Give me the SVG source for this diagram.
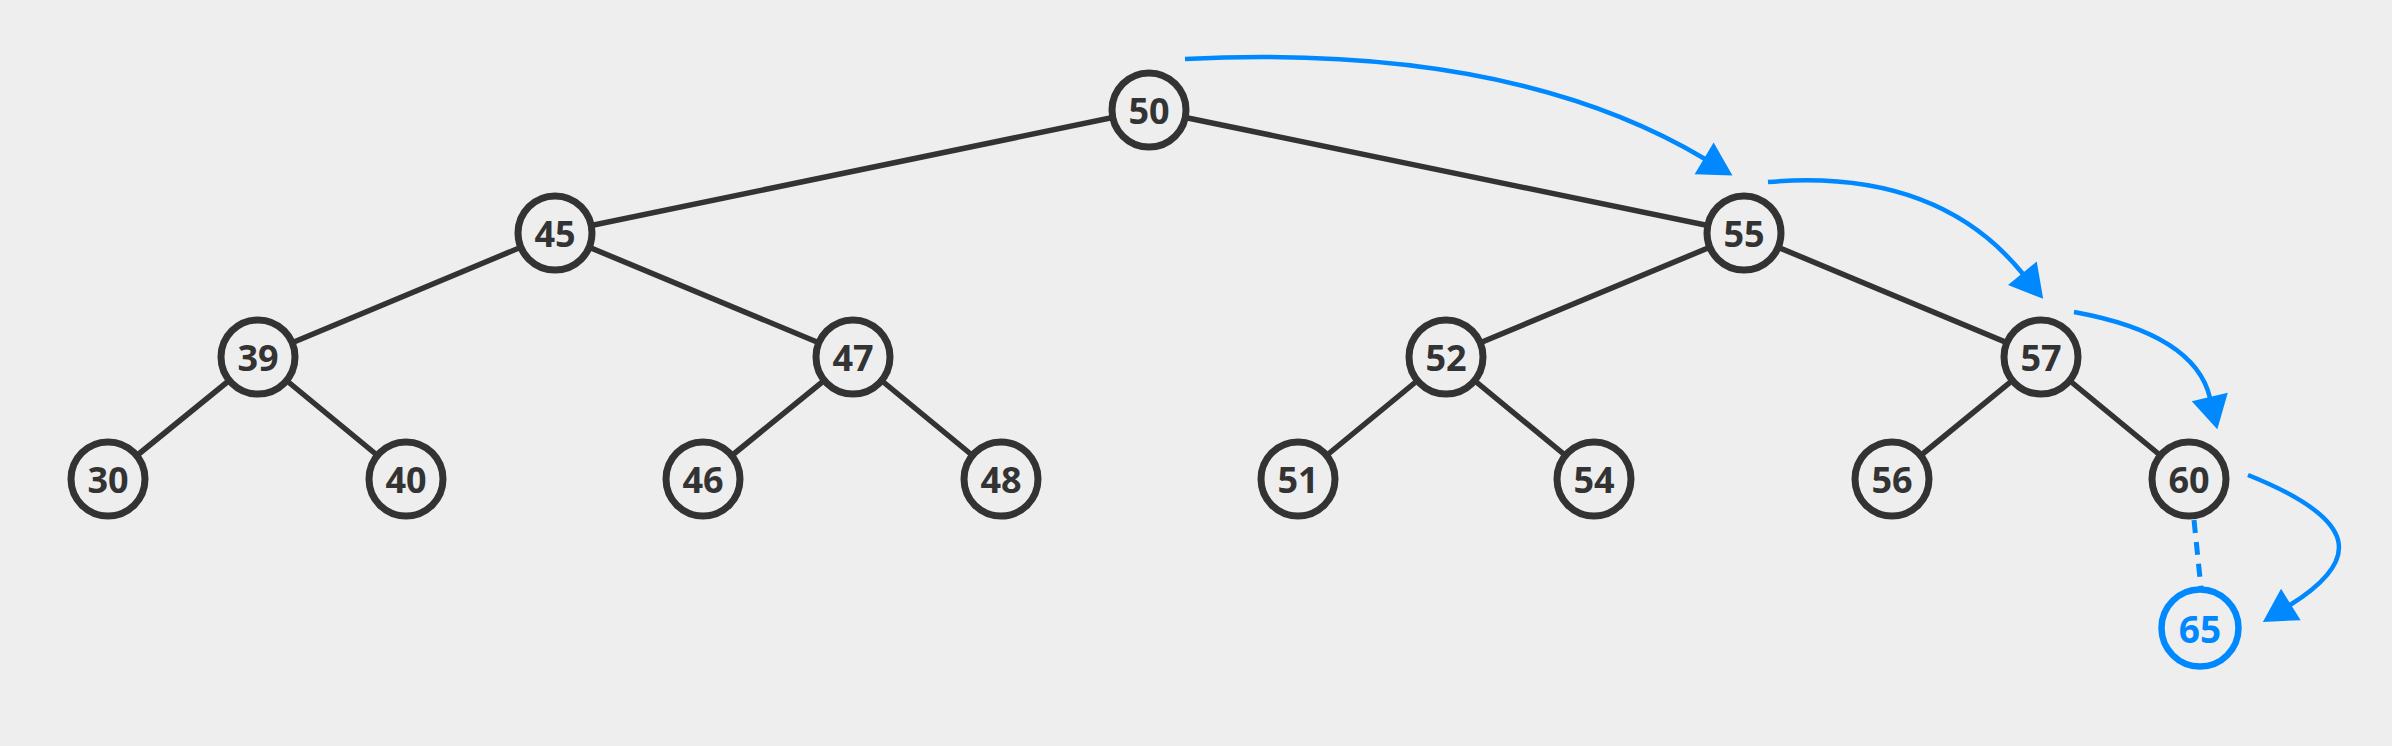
<svg xmlns="http://www.w3.org/2000/svg" width="2392" height="746" viewBox="0 0 2392 746">
<style>
.edge{stroke:#333333;stroke-width:5.5;fill:none;stroke-linecap:round}
.node circle{fill:#EEEEEE;stroke:#333333;stroke-width:7}
.node text{font-family:"Open Sans","DejaVu Sans",sans-serif;font-weight:bold;font-size:36px;fill:#333333;text-anchor:middle;dominant-baseline:central}
.new circle{fill:#EEEEEE;stroke:#0088FF;stroke-width:6.5}
.new text{font-family:"Open Sans","DejaVu Sans",sans-serif;font-weight:bold;font-size:37px;fill:#0088FF;text-anchor:middle;dominant-baseline:central}
.arc{stroke:#0088FF;stroke-width:4.5;fill:none}
.dash{stroke:#0088FF;stroke-width:5;fill:none;stroke-dasharray:13 9}
</style>
<defs>
<marker id="ah" markerUnits="userSpaceOnUse" markerWidth="34" markerHeight="37" refX="1" refY="18.5" orient="auto" overflow="visible">
<path d="M0,0 L33,18.5 L0,37 Z" fill="#0088FF"/>
</marker>
</defs>
<rect width="2392" height="746" fill="#EEEEEE"/>
<g id="connectors">
<line class="edge" x1="1149" y1="110" x2="555" y2="233"/>
<line class="edge" x1="1149" y1="110" x2="1744" y2="233"/>
<line class="edge" x1="555" y1="233" x2="258" y2="357"/>
<line class="edge" x1="555" y1="233" x2="853" y2="357"/>
<line class="edge" x1="1744" y1="233" x2="1446" y2="357"/>
<line class="edge" x1="1744" y1="233" x2="2041" y2="357"/>
<line class="edge" x1="258" y1="357" x2="108" y2="479"/>
<line class="edge" x1="258" y1="357" x2="406" y2="479"/>
<line class="edge" x1="853" y1="357" x2="703" y2="479"/>
<line class="edge" x1="853" y1="357" x2="1001" y2="479"/>
<line class="edge" x1="1446" y1="357" x2="1298" y2="479"/>
<line class="edge" x1="1446" y1="357" x2="1594" y2="479"/>
<line class="edge" x1="2041" y1="357" x2="1892" y2="479"/>
<line class="edge" x1="2041" y1="357" x2="2189" y2="479"/>
<line class="dash" x1="2194" y1="520" x2="2201" y2="588"/>
<path class="arc" d="M1185,59 Q1511,43 1705,159" marker-end="url(#ah)"/>
<path class="arc" d="M1768,182 Q1937,168 2023,274" marker-end="url(#ah)"/>
<path class="arc" d="M2074,312 Q2195,334 2210,398" marker-end="url(#ah)"/>
<path class="arc" d="M2248,475 C2360,520 2362,560 2290,605" marker-end="url(#ah)"/>
</g>
<g id="n50" class="node"><circle cx="1149" cy="110" r="37"/><text x="1149" y="110">50</text></g>
<g id="n45" class="node"><circle cx="555" cy="233" r="37"/><text x="555" y="233">45</text></g>
<g id="n55" class="node"><circle cx="1744" cy="233" r="37"/><text x="1744" y="233">55</text></g>
<g id="n39" class="node"><circle cx="258" cy="357" r="37"/><text x="258" y="357">39</text></g>
<g id="n47" class="node"><circle cx="853" cy="357" r="37"/><text x="853" y="357">47</text></g>
<g id="n52" class="node"><circle cx="1446" cy="357" r="37"/><text x="1446" y="357">52</text></g>
<g id="n57" class="node"><circle cx="2041" cy="357" r="37"/><text x="2041" y="357">57</text></g>
<g id="n30" class="node"><circle cx="108" cy="479" r="37"/><text x="108" y="479">30</text></g>
<g id="n40" class="node"><circle cx="406" cy="479" r="37"/><text x="406" y="479">40</text></g>
<g id="n46" class="node"><circle cx="703" cy="479" r="37"/><text x="703" y="479">46</text></g>
<g id="n48" class="node"><circle cx="1001" cy="479" r="37"/><text x="1001" y="479">48</text></g>
<g id="n51" class="node"><circle cx="1298" cy="479" r="37"/><text x="1298" y="479">51</text></g>
<g id="n54" class="node"><circle cx="1594" cy="479" r="37"/><text x="1594" y="479">54</text></g>
<g id="n56" class="node"><circle cx="1892" cy="479" r="37"/><text x="1892" y="479">56</text></g>
<g id="n60" class="node"><circle cx="2189" cy="479" r="37"/><text x="2189" y="479">60</text></g>
<g id="n65" class="new"><circle cx="2200" cy="628" r="38.5"/><text x="2200" y="628">65</text></g>
</svg>
